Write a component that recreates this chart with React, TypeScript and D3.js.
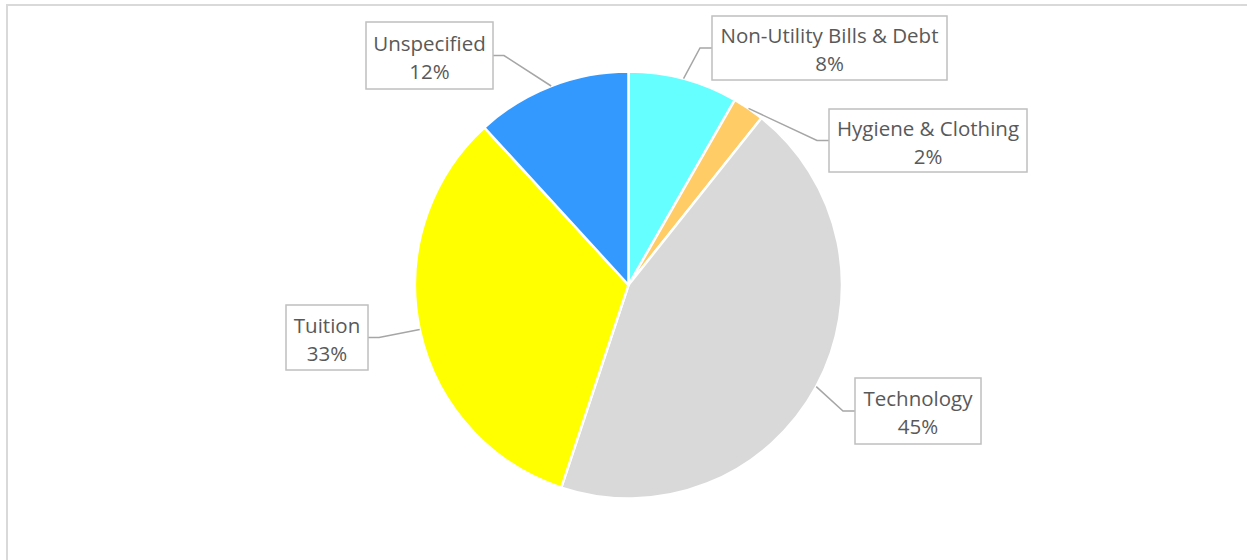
import React from "react";
import * as d3 from "d3";

const categories = ["Non-Utility Bills & Debt", "Hygiene & Clothing", "Technology", "Tuition", "Unspecified"];
const values = [8.3, 2.4, 44.4, 33.1, 11.8];
const percentLabels = ["8%", "2%", "45%", "33%", "12%"];
const colors = ["#66FFFF", "#FFCC66", "#D9D9D9", "#FFFF00", "#3399FF"];
// label box layouts: [x, y, w, h]
const boxes: [number, number, number, number][] = [
  [712, 16, 235, 64],
  [829, 109, 198, 63],
  [855, 378, 126, 66],
  [286, 305, 82, 65],
  [366, 22, 127, 67],
];
// which side the leader attaches to the box
const sides = ["left", "left", "left", "right", "right"];

const W = 1247;
const H = 560;
const cx = 628.5;
const cy = 285;
const R = 213.5;

export default function App() {
  const pie = d3.pie<number>().sort(null).value((d) => d)(values);
  const arc = d3.arc<d3.PieArcDatum<number>>().innerRadius(0).outerRadius(R);
  const edge = d3.arc<d3.PieArcDatum<number>>().innerRadius(R).outerRadius(R);

  return (
    <svg
      width={W}
      height={H}
      style={{ position: "absolute", left: 0, top: 0, background: "#fff" }}
    >
      <line x1={6} y1={5} x2={W} y2={5} stroke="#d9d9d9" strokeWidth={2} />
      <line x1={7} y1={4} x2={7} y2={H} stroke="#d9d9d9" strokeWidth={2} />
      <g transform={`translate(${cx},${cy})`}>
        {pie.map((p, i) => (
          <path key={i} d={arc(p) || ""} fill={colors[i]} stroke="#fff" strokeWidth={2.5} strokeLinejoin="round" />
        ))}
      </g>
      {pie.map((p, i) => {
        const [bx, by, bw, bh] = boxes[i];
        const [ex, ey] = edge.centroid(p);
        const px = cx + ex;
        const py = cy + ey;
        const midY = by + bh / 2;
        const attachX = sides[i] === "left" ? bx : bx + bw;
        const elbowX = sides[i] === "left" ? bx - 12 : bx + bw + 11;
        return (
          <g key={i}>
            <polyline
              points={`${attachX},${midY} ${elbowX},${midY} ${px},${py}`}
              fill="none"
              stroke="#a6a6a6"
              strokeWidth={1.5}
            />
            <rect x={bx} y={by} width={bw} height={bh} fill="#fff" stroke="#bfbfbf" strokeWidth={1.5} />
            <text
              x={bx + bw / 2}
              textAnchor="middle"
              fill="#595959"
              fontFamily="'Open Sans', sans-serif"
              fontSize={20.5}
            >
              <tspan x={bx + bw / 2} y={midY - 5}>{categories[i]}</tspan>
              <tspan x={bx + bw / 2} y={midY + 23}>{percentLabels[i]}</tspan>
            </text>
          </g>
        );
      })}
    </svg>
  );
}
